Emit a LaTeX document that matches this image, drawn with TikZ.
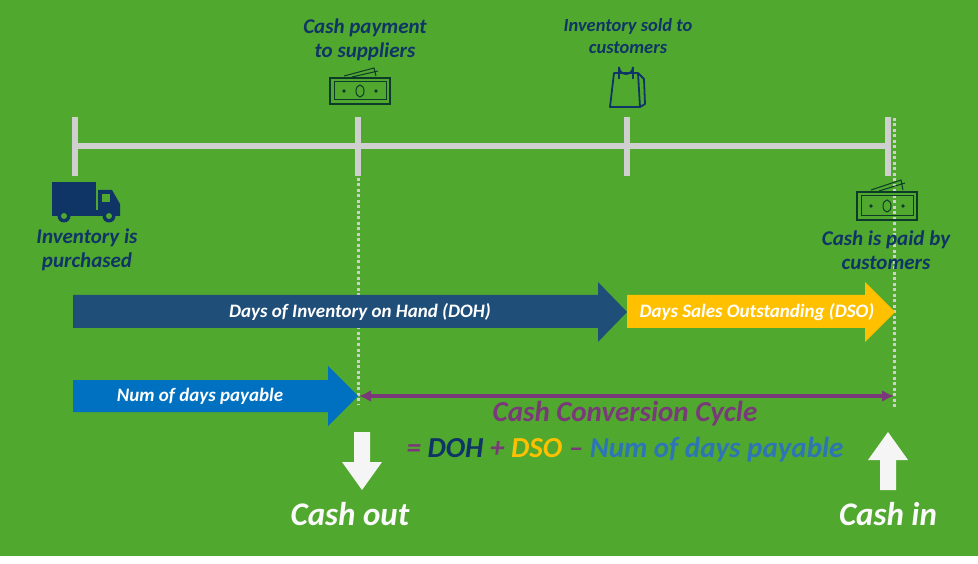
\documentclass[tikz,border=0pt]{standalone}
\usepackage{fontspec}
\setmainfont{Carlito}
\usetikzlibrary{arrows.meta,shapes.arrows}
\definecolor{bg}{HTML}{50A82E}
\definecolor{navy}{HTML}{0F3466}
\definecolor{doh}{HTML}{1F4E79}
\definecolor{dso}{HTML}{FFC000}
\definecolor{ndp}{HTML}{0070C0}
\definecolor{ccc}{HTML}{7A3A7A}
\definecolor{fml}{HTML}{2E75B6}
\definecolor{tl}{HTML}{CFCFCF}
\definecolor{money}{HTML}{0D3B2A}
\tikzset{
  lbl/.style={font=\bfseries\itshape\fontsize{21}{24}\selectfont, text=navy, align=center},
  tick/.style={draw=tl, line width=6pt},
  dots/.style={draw=tl, line width=3pt, dash pattern=on 3pt off 2.5pt},
  bar/.style={white, font=\bfseries\itshape\fontsize{19}{22}\selectfont},
}
\begin{document}
\begin{tikzpicture}[x=1pt,y=-1pt]
\useasboundingbox (0,0) rectangle (978,564);
\fill[white] (0,0) rectangle (978,564);
\fill[bg] (0,0) rectangle (978,556);
% timeline
\coordinate (t0) at (75,146); \coordinate (t3) at (888,146);
\draw[tick] (t0) -- (t3);
\foreach \x in {75,358,627,888} \draw[tick] (\x,117) -- (\x,176);
\draw[dots] (358,178) -- (358,405);
\draw[dots] (894,118) -- (894,408);
% truck
\fill[navy] (52,182) rectangle (96,210);
\fill[navy] (98,190) -- (112,190) -- (120,204) -- (120,216) -- (98,216) -- cycle;
\fill[navy] (52,210) rectangle (98,216);
\fill[bg] (102,194) rectangle (110,202);
\foreach \x in {64,109}{\fill[navy] (\x,216) circle (6.5); \fill[bg] (\x,216) circle (3);}
\node[lbl] (inv) at (87,250) {Inventory is\\purchased};
% cash icon 1
\begin{scope}[shift={(330,68)}]
\draw[money, line width=1.3pt] (0,10) rectangle (60,36);
\draw[money, line width=1pt] (4,14) rectangle (56,32);
\draw[money, line width=1pt] (30,23) ellipse (4 and 6);
\fill[money] (14,23) circle (1.8); \fill[money] (46,23) circle (1.8);
\draw[money, line width=1pt] (14,8) -- (44,0) -- (46,8);
\draw[money, line width=1pt] (22,9) -- (48,3);
\end{scope}
\node[lbl] (pay) at (365,40) {Cash payment\\to suppliers};
% bag
\begin{scope}[shift={(610,57)}]
\draw[navy, line width=1.8pt, line join=round] (4,16) -- (28,16) -- (30,50) -- (0,50) -- cycle;
\draw[navy, line width=1.8pt, line join=round] (28,16) -- (34,22) -- (35,47) -- (30,50);
\draw[navy, line width=1.8pt] (9,22) -- (9,10) arc (180:0:7) -- (23,22);
\end{scope}
\node[lbl, font=\bfseries\itshape\fontsize{18.5}{22}\selectfont] (sold) at (628,36) {Inventory sold to\\customers};
% cash icon 2
\begin{scope}[shift={(857,180)}]
\draw[money, line width=1.3pt] (0,12) rectangle (60,40);
\draw[money, line width=1pt] (4,16) rectangle (56,36);
\draw[money, line width=1pt] (30,26) ellipse (4 and 6);
\fill[money] (14,26) circle (1.8); \fill[money] (46,26) circle (1.8);
\draw[money, line width=1pt] (14,10) -- (44,0) -- (46,10);
\draw[money, line width=1pt] (22,11) -- (48,3);
\end{scope}
\node[lbl] (paid) at (886,250) {Cash is paid by\\customers};
% bar arrows
\fill[doh] (73,295) -- (598,295) -- (598,282) -- (627,312) -- (598,342) -- (598,328) -- (73,328) -- cycle;
\node[bar] (dohl) at (360,312) {Days of Inventory on Hand (DOH)};
\fill[dso] (627,295) -- (865,295) -- (865,282) -- (895,312) -- (865,342) -- (865,328) -- (627,328) -- cycle;
\node[bar] (dsol) at (757,312) {Days Sales Outstanding (DSO)};
\fill[ndp] (73,380) -- (328,380) -- (328,366) -- (358,396) -- (328,426) -- (328,412) -- (73,412) -- cycle;
\node[bar] (ndpl) at (200,396) {Num of days payable};
% CCC
\coordinate (c1) at (359,396); \coordinate (c2) at (894,396);
\draw[ccc, line width=3.5pt, {Latex[length=12pt,width=12pt]}-{Latex[length=12pt,width=12pt]}] (c1) -- (c2);
\node[font=\bfseries\itshape\fontsize{29}{32}\selectfont, text=ccc] (cccl) at (625,414) {Cash Conversion Cycle};
\node[font=\bfseries\itshape\fontsize{29}{32}\selectfont] (fm) at (625,450) {\textcolor{ccc}{=} \textcolor{navy}{DOH} \textcolor{ccc}{+} \textcolor{dso}{DSO} \textcolor{ccc}{–} \textcolor{fml}{Num of days payable}};
% cash out / in
\fill[white!92!gray] (354,432) -- (370,432) -- (370,462) -- (382,462) -- (362,490) -- (342,462) -- (354,462) -- cycle;
\fill[white!92!gray] (880,490) -- (896,490) -- (896,460) -- (908,460) -- (888,432) -- (868,460) -- (880,460) -- cycle;
\node[font=\bfseries\itshape\fontsize{33}{36}\selectfont, text=white!95!gray] (out) at (350,514) {Cash out};
\node[font=\bfseries\itshape\fontsize{33}{36}\selectfont, text=white!95!gray] (in) at (888,514) {Cash in};
\end{tikzpicture}
\end{document}
